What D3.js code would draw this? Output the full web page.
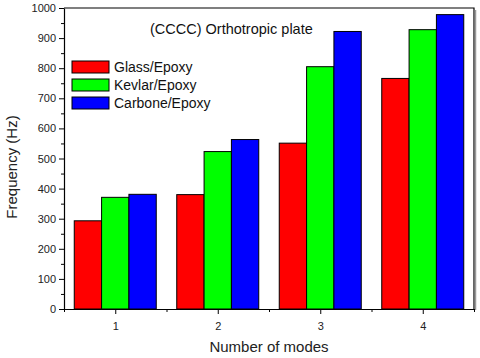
<!DOCTYPE html>
<html>
<head>
<meta charset="utf-8">
<script src="https://cdn.jsdelivr.net/npm/d3@7"></script>
<style>
  body { margin: 0; background: #fff; }
  svg { display: block; font-family: Arial, "Liberation Sans", sans-serif; }
</style>
</head>
<body>
<div id="chart"></div>
<script>
const modes = [1, 2, 3, 4];
const seriesNames = ["Glass/Epoxy", "Kevlar/Epoxy", "Carbone/Epoxy"];
const seriesColors = ["#ff0000", "#00ff00", "#0000ff"];
const glassValues = [293, 380, 551, 766];
const kevlarValues = [371, 523, 805, 928];
const carboneValues = [381, 563, 922, 978];
const yTicks = [0, 100, 200, 300, 400, 500, 600, 700, 800, 900, 1000];

const width = 480;
const height = 358;
const margin = { top: 8, right: 6, bottom: 49, left: 64 };

const svg = d3
  .select("#chart")
  .append("svg")
  .attr("width", width)
  .attr("height", height);

const x = d3
  .scaleLinear()
  .domain([0.5, 4.5])
  .range([margin.left, width - margin.right]);

const y = d3
  .scaleLinear()
  .domain([0, 1000])
  .range([height - margin.bottom, margin.top]);

// bars: each group takes 0.8 of a category
const groupWidth = 0.8;
const barWidth = groupWidth / seriesNames.length;
const allSeries = [glassValues, kevlarValues, carboneValues];

allSeries.forEach((values, s) => {
  svg
    .append("g")
    .selectAll("rect")
    .data(values)
    .enter()
    .append("rect")
    .attr("x", (d, i) => x(modes[i] - groupWidth / 2 + s * barWidth))
    .attr("y", (d) => y(d))
    .attr("width", x(barWidth) - x(0))
    .attr("height", (d) => y(0) - y(d))
    .attr("fill", seriesColors[s])
    .attr("stroke", "#000")
    .attr("stroke-width", 1);
});

// frame (top and right)
svg
  .append("path")
  .attr("d", `M${x(0.5)},${y(1000)}H${x(4.5)}V${y(0)}`)
  .attr("fill", "none")
  .attr("stroke", "#000")
  .attr("stroke-width", 1.2);
svg
  .append("path")
  .attr("d", `M${x(4.5) + 1.5},${y(1000) + 2}V${y(0) + 1}`)
  .attr("stroke", "#999")
  .attr("stroke-width", 1.5);

// y axis, major then minor ticks
svg
  .append("g")
  .attr("transform", `translate(${margin.left},0)`)
  .call(
    d3.axisLeft(y)
      .tickValues(yTicks)
      .tickSize(5)
      .tickPadding(3)
      .tickFormat(d3.format("d"))
      .tickSizeOuter(0)
  );
svg
  .append("g")
  .attr("transform", `translate(${margin.left},0)`)
  .call(
    d3.axisLeft(y)
      .tickValues(yTicks.slice(0, -1).map((t) => t + 50))
      .tickSize(3)
      .tickFormat("")
      .tickSizeOuter(0)
  )
  .select(".domain")
  .remove();

// x axis
svg
  .append("g")
  .attr("transform", `translate(0,${y(0)})`)
  .call(
    d3.axisBottom(x)
      .tickValues(modes)
      .tickSize(5)
      .tickPadding(8)
      .tickFormat(d3.format("d"))
      .tickSizeOuter(0)
  );
svg
  .append("g")
  .attr("transform", `translate(0,${y(0)})`)
  .call(
    d3.axisBottom(x)
      .tickValues([0.5, 1.5, 2.5, 3.5, 4.5])
      .tickSize(3)
      .tickFormat("")
      .tickSizeOuter(0)
  )
  .select(".domain")
  .remove();

svg.selectAll(".domain").attr("stroke", "#000").attr("stroke-width", 1.2);
svg.selectAll(".tick line").attr("stroke", "#000");
svg.selectAll(".tick text").attr("font-size", 11).attr("fill", "#222");

// axis titles
svg
  .append("text")
  .attr("x", x(2.5))
  .attr("y", 352)
  .attr("text-anchor", "middle")
  .attr("font-size", 15)
  .attr("fill", "#222")
  .text("Number of modes");

svg
  .append("text")
  .attr("transform", `translate(17,167) rotate(-90)`)
  .attr("text-anchor", "middle")
  .attr("font-size", 15)
  .attr("fill", "#222")
  .text("Frequency (Hz)");

// title
svg
  .append("text")
  .attr("x", 150)
  .attr("y", 34)
  .attr("font-size", 14.5)
  .attr("fill", "#111")
  .text("(CCCC) Orthotropic plate");

// legend
const legend = svg
  .append("g")
  .selectAll("g")
  .data(seriesNames)
  .enter()
  .append("g")
  .attr("transform", (d, i) => `translate(72,${61 + i * 18})`);

legend
  .append("rect")
  .attr("width", 37)
  .attr("height", 12)
  .attr("fill", (d, i) => seriesColors[i])
  .attr("stroke", "#000")
  .attr("stroke-width", 1);

legend
  .append("text")
  .attr("x", 42)
  .attr("y", 11)
  .attr("font-size", 14)
  .attr("fill", "#111")
  .text((d) => d);
</script>
</body>
</html>
